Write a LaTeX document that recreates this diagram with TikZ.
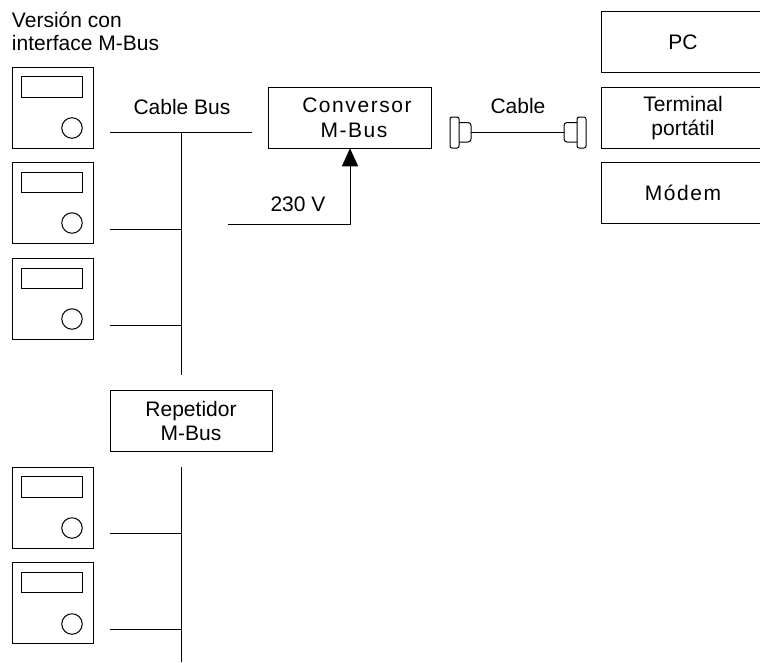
\documentclass[tikz,border=0pt]{standalone}
\usepackage{fontspec}
\setmainfont{Liberation Sans}
\usetikzlibrary{arrows.meta}
\tikzset{
  base/.style={font=\fontsize{21}{23.5}\selectfont, line width=1pt},
  box/.style={draw, rectangle, inner sep=0pt, outer sep=0pt, align=center, line width=1pt},
  device/.style={box, minimum width=81, minimum height=81},
  display/.style={box, minimum width=61, minimum height=20.5},
  knob/.style={draw, circle, inner sep=0pt, outer sep=0pt, minimum size=20.5, line width=1pt},
  flange/.style={box, rounded corners=2, minimum width=9, minimum height=31},
  tag/.style={inner sep=0pt, outer sep=0pt, align=center},
  spaced/.style={font=\fontsize{21}{24.5}\selectfont\addfontfeature{LetterSpace=7.5}},
}
\begin{document}
\begin{tikzpicture}[x=1pt, y=-1pt, base]
\clip (0,0) rectangle (760,662);

\node[tag, align=left, anchor=north west] (title) at (12,12) {Versión con\\interface M-Bus};

\node[device] (dev1) at (52.5,107.5) {};
\node[display] (dev1d) at (52,87) {};
\node[knob] (dev1k) at (72,128) {};
\node[device] (dev2) at (52.5,203) {};
\node[display] (dev2d) at (52,182.7) {};
\node[knob] (dev2k) at (72,223) {};
\node[device] (dev3) at (52.5,298.5) {};
\node[display] (dev3d) at (52,278.5) {};
\node[knob] (dev3k) at (72,319) {};
\node[device] (dev4) at (52.5,507.5) {};
\node[display] (dev4d) at (52,487) {};
\node[knob] (dev4k) at (72,528) {};
\node[device] (dev5) at (52.5,603) {};
\node[display] (dev5d) at (52,582.7) {};
\node[knob] (dev5k) at (72,624) {};

\node[tag] (buslabel) at (182,107) {Cable Bus};
\node[box, spaced, minimum width=162.5, minimum height=60.5] (conv) at (350,118) {\hspace*{14pt}Conversor\\\hspace*{8pt}M-Bus};
\node[tag] (volt) at (298,204) {230 V};
\node[box, minimum width=162, minimum height=60.5] (rep) at (191,421) {Repetidor\\M-Bus};

\node[box, minimum width=164, minimum height=60.5] (pc) at (683,42) {PC};
\node[box, minimum width=164, minimum height=60.5] (term) at (683,118) {Terminal\\portátil};
\node[box, spaced, minimum width=164, minimum height=60.5] (modem) at (683,193) {Módem};

\node[tag] (cablelabel) at (518,106) {Cable};
\node[flange] (flangel) at (454.5,132.5) {};
\node[flange] (flanger) at (581.5,132.5) {};
\draw[rounded corners=3] (flangel.east |- 0,122.5) -- (471,122.5) -- (471,142) -- (flangel.east |- 0,142);
\draw[rounded corners=3] (flanger.west |- 0,122.5) -- (564,122.5) -- (564,142) -- (flanger.west |- 0,142);
\coordinate (plugl) at (471,132.5);
\coordinate (plugr) at (564,132.5);
\draw (plugl) -- (plugr);

\coordinate (busl) at (110,132.5);
\coordinate (busr) at (252,132.5);
\coordinate (bus1a) at (181.5,132.5);
\coordinate (bus1b) at (181.5,375);
\coordinate (stub2) at (110,229);
\coordinate (stub3) at (110,325);
\coordinate (tap2) at (181.5,229);
\coordinate (tap3) at (181.5,325);
\draw (busl) -- (busr);
\draw (bus1a) -- (bus1b);
\draw (stub2) -- (tap2);
\draw (stub3) -- (tap3);

\coordinate (bus2a) at (181.5,467);
\coordinate (bus2b) at (181.5,662);
\coordinate (stub4) at (110,533);
\coordinate (stub5) at (110,629.3);
\coordinate (tap4) at (181.5,533);
\coordinate (tap5) at (181.5,629.3);
\draw (bus2a) -- (bus2b);
\draw (stub4) -- (tap4);
\draw (stub5) -- (tap5);

\coordinate (mains) at (228,224);
\draw[-{Triangle[length=18,width=16]}] (mains) -| (conv.south -| 350,0);
\end{tikzpicture}
\end{document}
